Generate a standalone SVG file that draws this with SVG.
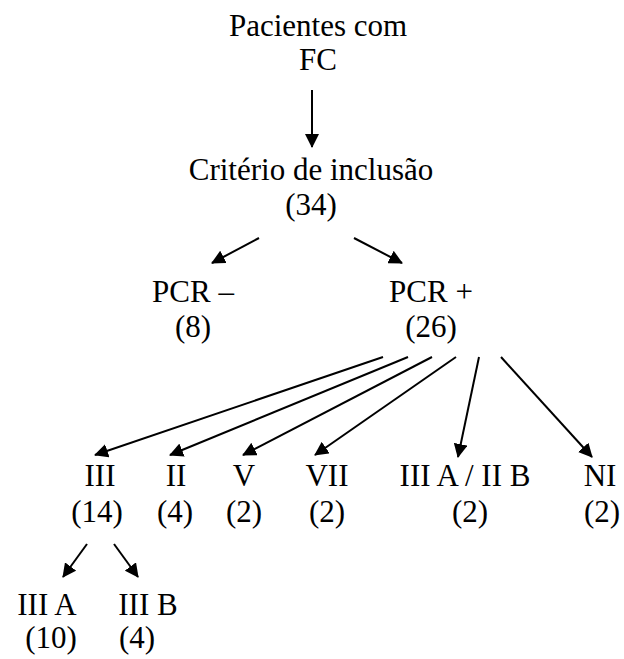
<svg xmlns="http://www.w3.org/2000/svg" width="624" height="659" viewBox="0 0 624 659">
<style>
text{font-family:"Liberation Serif","Times New Roman","DejaVu Serif",serif;font-size:31px;fill:#000;text-anchor:middle}
.c line{stroke:#000;stroke-width:2;marker-end:url(#ah)}
</style>
<defs>
<marker id="ah" viewBox="0 0 14 14" refX="13" refY="7" markerWidth="14" markerHeight="14" markerUnits="userSpaceOnUse" orient="auto"><path d="M0,0L14,7L0,14z" fill="#000"/></marker>
</defs>
<rect width="624" height="659" fill="#fff"/>
<g id="n-pacientes"><text x="318" y="36">Pacientes com</text><text x="318" y="70">FC</text></g>
<g id="n-criterio"><text x="311" y="180">Critério de inclusão</text><text x="311" y="215">(34)</text></g>
<g id="n-pcrneg"><text x="193" y="302">PCR –</text><text x="193" y="337">(8)</text></g>
<g id="n-pcrpos"><text x="431" y="302">PCR +</text><text x="431" y="337">(26)</text></g>
<g id="n-iii"><text x="100" y="486">III</text><text x="97" y="522">(14)</text></g>
<g id="n-ii"><text x="176" y="486">II</text><text x="175" y="522">(4)</text></g>
<g id="n-v"><text x="244" y="486">V</text><text x="244" y="522">(2)</text></g>
<g id="n-vii"><text x="327" y="486">VII</text><text x="327" y="522">(2)</text></g>
<g id="n-iiiaiib"><text x="465" y="486">III A / II B</text><text x="470" y="522">(2)</text></g>
<g id="n-ni"><text x="600" y="486">NI</text><text x="602" y="522">(2)</text></g>
<g id="n-iiia"><text x="47" y="615">III A</text><text x="51" y="648">(10)</text></g>
<g id="n-iiib"><text x="148" y="615">III B</text><text x="137" y="648">(4)</text></g>
<g id="connectors" class="c">
<line x1="312" y1="90" x2="312" y2="147"/>
<line x1="259" y1="238" x2="212" y2="263"/>
<line x1="354" y1="238" x2="402" y2="263"/>
<line x1="383" y1="357" x2="95" y2="455"/>
<line x1="408" y1="357" x2="170" y2="455"/>
<line x1="432" y1="357" x2="243" y2="455"/>
<line x1="456" y1="357" x2="315" y2="455"/>
<line x1="479" y1="357" x2="458" y2="457"/>
<line x1="501" y1="357" x2="592" y2="457"/>
<line x1="87" y1="544" x2="63" y2="577"/>
<line x1="114" y1="544" x2="138" y2="577"/>
</g>
</svg>
